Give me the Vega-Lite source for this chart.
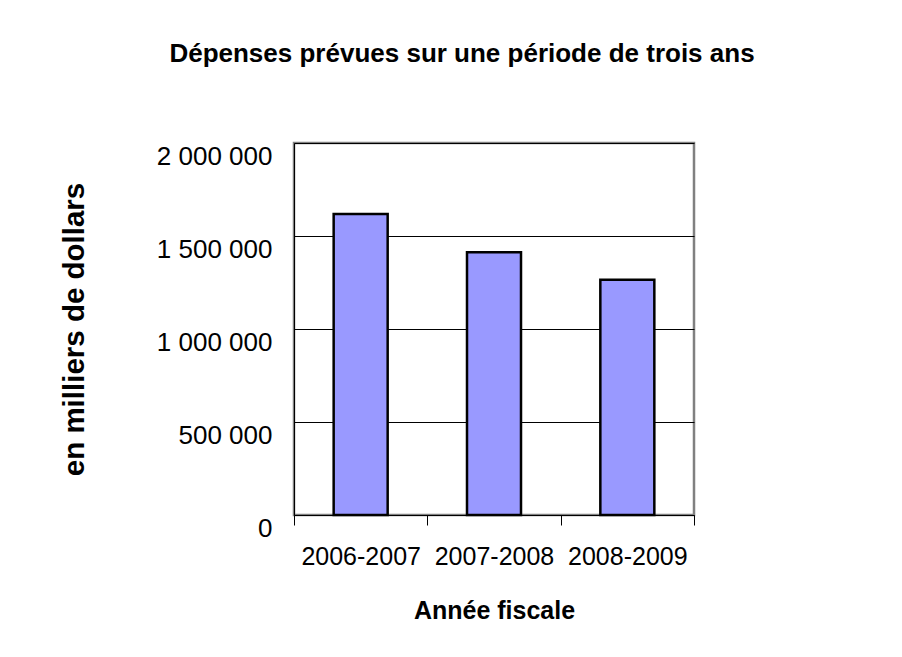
{
  "$schema": "https://vega.github.io/schema/vega-lite/v6.json",
  "autosize": "none",
  "width": 400,
  "height": 372,
  "padding": {"left": 294, "top": 143, "right": 208, "bottom": 142},
  "background": "white",
  "title": {
    "text": "Dépenses prévues sur une période de trois ans",
    "font": "Liberation Sans",
    "fontSize": 26,
    "fontWeight": "bold",
    "color": "black",
    "anchor": "middle",
    "baseline": "alphabetic",
    "offset": 55,
    "dx": -32
  },
  "data": {
    "values": [
      {"annee": "2006-2007", "depenses": 1618000},
      {"annee": "2007-2008", "depenses": 1412000},
      {"annee": "2008-2009", "depenses": 1265000}
    ]
  },
  "mark": {"type": "bar", "fill": "#9999FF", "stroke": "black", "strokeWidth": 2.5, "width": {"band": 0.405}},
  "encoding": {
    "x": {
      "field": "annee",
      "type": "nominal",
      "sort": null,
      "scale": {"paddingInner": 0, "paddingOuter": 0},
      "axis": {
        "title": "Année fiscale",
        "labelAngle": 0,
        "tickBand": "extent",
        "grid": false,
        "tickSize": 10,
        "tickColor": "black",
        "domainColor": "black",
        "labelPadding": 19,
        "labelFontSize": 25,
        "titleY": 103,
        "titleBaseline": "alphabetic"
      }
    },
    "y": {
      "field": "depenses",
      "type": "quantitative",
      "scale": {"domain": [0, 2000000], "nice": false},
      "axis": {
        "title": "en milliers de dollars",
        "titleFontSize": 29.5,
        "values": [0, 500000, 1000000, 1500000, 2000000],
        "format": ",d",
        "ticks": false,
        "labelFontSize": 26,
        "labelPadding": 22,
        "labelOffset": 13,
        "grid": true,
        "gridColor": "black",
        "gridWidth": 1,
        "gridOpacity": 1,
        "domainColor": "black",
        "titleX": -220,
        "titleY": 186,
        "titleAngle": -90,
        "titleBaseline": "middle",
        "titleAlign": "center"
      }
    }
  },
  "config": {
    "locale": {"number": {"decimal": ",", "thousands": " ", "grouping": [3], "currency": ["", " $"]}},
    "view": {"stroke": "#808080", "strokeWidth": 2.5},
    "axis": {
      "labelFont": "Liberation Sans",
      "labelColor": "black",
      "titleFont": "Liberation Sans",
      "titleFontSize": 25,
      "titleFontWeight": "bold",
      "titleColor": "black",
      "domainWidth": 1
    }
  }
}
